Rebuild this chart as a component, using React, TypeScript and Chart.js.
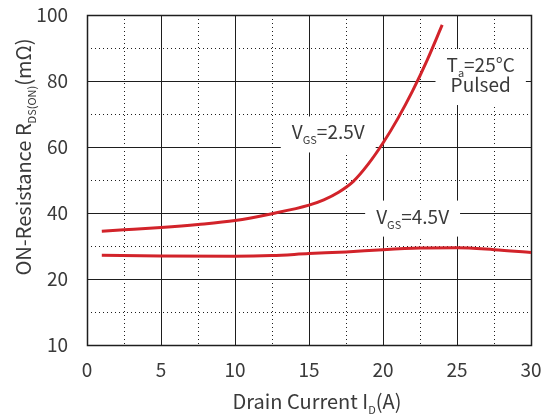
import React, { useEffect, useRef } from "react";
import { Chart, registerables } from "chart.js";

Chart.register(...registerables);

// ---- data ----
const vgs25X = [1, 2.5, 5, 7.5, 10, 12.5, 15, 16, 17, 18, 19, 20, 21, 22, 23, 24];
const vgs25Y = [34.5, 34.9, 35.6, 36.5, 37.7, 39.8, 42.4, 44.0, 46.3, 49.6, 54.8, 61.2, 68.6, 77.0, 86.5, 97.0];
const vgs45X = [1, 5, 10, 12.5, 15, 17.5, 20, 22.5, 25, 27.5, 30];
const vgs45Y = [27.2, 27.0, 26.9, 27.1, 27.7, 28.2, 28.9, 29.4, 29.5, 28.9, 28.0];
const xTickLabels = ["0", "5", "10", "15", "20", "25", "30"];
const yTickLabels = ["10", "20", "40", "60", "80", "100"];
const yTickValues = [0, 20, 40, 60, 80, 100];

type Part = { t: string; sub?: boolean };
const labels: { x: number; y: number; lines: Part[][] }[] = [
  { x: 16.3, y: 63.8, lines: [[{ t: "V" }, { t: "GS", sub: true }, { t: "=2.5V" }]] },
  { x: 26.6, y: 81.2, lines: [[{ t: "T" }, { t: "a", sub: true }, { t: "=25°C" }], [{ t: "Pulsed" }]] },
  { x: 22.0, y: 38.3, lines: [[{ t: "V" }, { t: "GS", sub: true }, { t: "=4.5V" }]] },
];
const yTitle: Part[] = [{ t: "ON-Resistance R" }, { t: "DS(ON)", sub: true }, { t: "(mΩ)" }];
const xTitle: Part[] = [{ t: "Drain Current I" }, { t: "D", sub: true }, { t: "(A)" }];

const FONT = '"Noto Sans CJK SC", "Noto Sans", sans-serif';
const TEXT = "#3a3a3a";
const RED = "#d2232a";
const MAIN = 19;
const SUB = 11;

function richWidth(ctx: CanvasRenderingContext2D, parts: Part[], size = MAIN) {
  let w = 0;
  for (const p of parts) {
    ctx.font = `${p.sub ? SUB : size}px ${FONT}`;
    w += ctx.measureText(p.t).width;
  }
  return w;
}
function drawRich(ctx: CanvasRenderingContext2D, parts: Part[], cx: number, baseline: number, size = MAIN) {
  const w = richWidth(ctx, parts, size);
  let x = cx - w / 2;
  ctx.textAlign = "left";
  ctx.textBaseline = "alphabetic";
  ctx.fillStyle = TEXT;
  for (const p of parts) {
    ctx.font = `${p.sub ? SUB : size}px ${FONT}`;
    ctx.fillText(p.t, x, p.sub ? baseline + 5 : baseline);
    x += ctx.measureText(p.t).width;
  }
}

const customPlugin = {
  id: "customDraw",
  beforeDatasetsDraw(chart: any) {
    const { ctx, chartArea: a, scales } = chart;
    const xs = scales.x;
    const ys = scales.y;
    ctx.save();
    ctx.strokeStyle = "#1e1e1e";
    ctx.lineWidth = 1;
    const line = (x1: number, y1: number, x2: number, y2: number) => {
      ctx.beginPath();
      ctx.moveTo(x1, y1);
      ctx.lineTo(x2, y2);
      ctx.stroke();
    };
    xs.ticks.forEach((t: any) => {
      const px = Math.round(xs.getPixelForValue(t.value)) + 0.5;
      const major = Math.abs(t.value % 5) < 1e-6;
      ctx.setLineDash(major ? [] : [1, 3]);
      line(px, a.top, px, a.bottom);
    });
    ys.ticks.forEach((t: any) => {
      const py = Math.round(ys.getPixelForValue(t.value)) + 0.5;
      const major = Math.abs(t.value % 20) < 1e-6;
      ctx.setLineDash(major ? [] : [1, 3]);
      line(a.left, py, a.right, py);
    });
    ctx.setLineDash([]);
    ctx.lineWidth = 1.5;
    ctx.strokeRect(Math.round(a.left) + 0.5, Math.round(a.top) + 0.5, Math.round(a.right - a.left), Math.round(a.bottom - a.top));
    for (const lb of labels) {
      const cx = xs.getPixelForValue(lb.x);
      const cy = ys.getPixelForValue(lb.y);
      const w = Math.max(...lb.lines.map((l) => richWidth(ctx, l))) + 22;
      const lh = 20;
      const h = lb.lines.length * lh + 16;
      ctx.fillStyle = "#ffffff";
      ctx.fillRect(cx - w / 2, cy - h / 2, w, h);
      const firstBase = cy - (lb.lines.length * lh) / 2 + 15;
      lb.lines.forEach((l, i) => drawRich(ctx, l, cx, firstBase + i * lh));
    }
    ctx.restore();
  },
  afterDraw(chart: any) {
    const { ctx, chartArea: a } = chart;
    ctx.save();
    drawRich(ctx, xTitle, (a.left + a.right) / 2 + 8, 409, 20);
    ctx.translate(31, 157);
    ctx.rotate(-Math.PI / 2);
    drawRich(ctx, yTitle, 0, 0, 20);
    ctx.restore();
  },
};

const noPad = (s: any) => {
  s.paddingTop = 0;
  s.paddingBottom = 0;
  s.paddingLeft = 0;
  s.paddingRight = 0;
};

export default function App() {
  const ref = useRef<HTMLCanvasElement>(null);
  useEffect(() => {
    document.body.style.margin = "0";
    const chart = new Chart(ref.current!, {
      type: "line",
      data: {
        datasets: [
          {
            label: "VGS=2.5V",
            data: vgs25X.map((x, i) => ({ x, y: vgs25Y[i] })),
            borderColor: RED,
            borderWidth: 3,
            pointRadius: 0,
            cubicInterpolationMode: "monotone",
          },
          {
            label: "VGS=4.5V",
            data: vgs45X.map((x, i) => ({ x, y: vgs45Y[i] })),
            borderColor: RED,
            borderWidth: 3,
            pointRadius: 0,
            cubicInterpolationMode: "monotone",
          },
        ],
      },
      options: {
        animation: false,
        responsive: false,
        layout: { padding: { top: 15, right: 13, left: 0, bottom: 0 } },
        plugins: { legend: { display: false }, tooltip: { enabled: false } },
        scales: {
          x: {
            type: "linear",
            min: 0,
            max: 30,
            grid: { display: false },
            border: { display: false },
            ticks: {
              stepSize: 2.5,
              autoSkip: false,
              maxRotation: 0,
              padding: 5,
              color: TEXT,
              font: { family: FONT, size: MAIN },
              callback: (v: any) => {
                const i = Math.round(Number(v) / 5);
                return Math.abs(Number(v) - i * 5) < 1e-6 ? xTickLabels[i] : "";
              },
            },
            afterFit: (s: any) => {
              s.height = 74;
              noPad(s);
            },
          },
          y: {
            type: "linear",
            min: 0,
            max: 100,
            grid: { display: false },
            border: { display: false },
            ticks: {
              stepSize: 10,
              autoSkip: false,
              padding: 11,
              color: TEXT,
              font: { family: FONT, size: MAIN },
              callback: (v: any) => {
                const i = yTickValues.indexOf(Number(v));
                return i >= 0 ? yTickLabels[i] : "";
              },
            },
            afterFit: (s: any) => {
              s.width = 87;
              noPad(s);
            },
          },
        },
      },
      plugins: [customPlugin],
    } as any);
    return () => chart.destroy();
  }, []);
  return (
    <div style={{ width: 544, height: 419 }}>
      <canvas ref={ref} width={544} height={419} style={{ display: "block" }} />
    </div>
  );
}
